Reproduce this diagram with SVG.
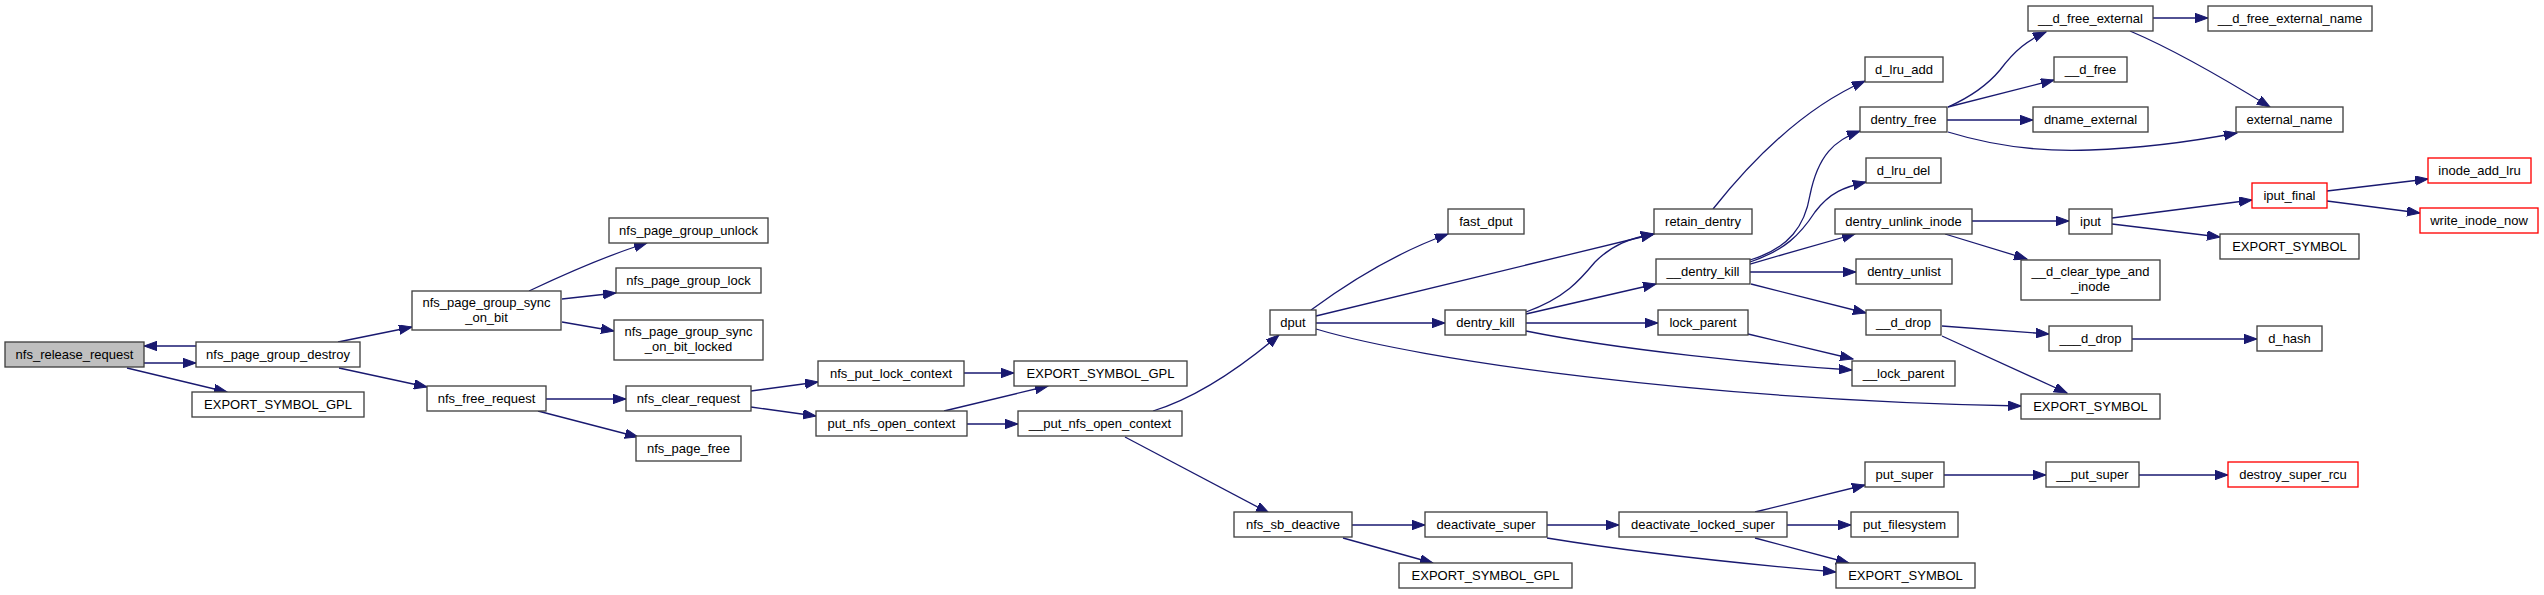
<svg xmlns="http://www.w3.org/2000/svg" width="2544" height="595" viewBox="0 0 2544 595">
<style>
.n rect{fill:#ffffff;stroke:#404040;stroke-width:1.33}
.n.root rect{fill:#bfbfbf}
.n.red rect{stroke:#ff0000}
.n text{font-family:"Liberation Sans",Arial,Helvetica,sans-serif;font-size:13px;fill:#000000;text-anchor:middle}
#edges path{fill:none;stroke:#191970;stroke-width:1.3;marker-end:url(#ah)}
</style>
<defs>
<marker id="ah" markerUnits="userSpaceOnUse" markerWidth="14" markerHeight="10" refX="13" refY="4.7" orient="auto">
<path d="M0,0 L13,4.7 L0,9.4 z" fill="#191970" stroke="#191970" stroke-width="1"/>
</marker>
</defs>
<rect width="2544" height="595" fill="#ffffff"/>
<g id="edges">
<path d="M196,346 L144,346"/>
<path d="M144,363 L196,363"/>
<path d="M127,368 L227,392"/>
<path d="M338,342 L412,327"/>
<path d="M339,368 L427,387"/>
<path d="M529,291 C565,274 605,256 647,243"/>
<path d="M562,299 L616,293"/>
<path d="M562,322 L614,331"/>
<path d="M546,399 L626,399"/>
<path d="M538,411 L638,437"/>
<path d="M751,391 L818,382"/>
<path d="M751,407 L816,416"/>
<path d="M964,373 L1014,373"/>
<path d="M944,411 L1048,386"/>
<path d="M967,424 L1018,424"/>
<path d="M1153,411 C1195,398 1240,368 1279,335"/>
<path d="M1125,437 L1269,513"/>
<path d="M1311,310 C1345,285 1390,255 1448,234"/>
<path d="M1316,316 L1654,234"/>
<path d="M1316,323 L1445,323"/>
<path d="M1316,329 C1420,360 1700,400 2021,406"/>
<path d="M1526,312 C1565,298 1580,280 1595,262 C1612,245 1630,238 1654,234"/>
<path d="M1526,314 L1656,284"/>
<path d="M1526,323 L1658,323"/>
<path d="M1526,331 C1620,350 1760,364 1852,370"/>
<path d="M1713,209 C1760,150 1810,105 1865,81"/>
<path d="M1750,260 C1790,248 1805,225 1810,195 C1818,155 1835,140 1860,131"/>
<path d="M1750,262 C1785,250 1800,235 1815,212 C1830,192 1845,187 1866,182"/>
<path d="M1750,264 L1855,234"/>
<path d="M1750,272 L1856,272"/>
<path d="M1751,284 L1866,313"/>
<path d="M1748,334 L1853,359"/>
<path d="M1948,107 C1975,95 1990,82 2000,70 C2015,50 2028,40 2046,32"/>
<path d="M1948,107 L2054,80"/>
<path d="M1947,120 L2033,120"/>
<path d="M1948,132 C1990,145 2040,152 2090,150 C2150,148 2200,140 2237,133"/>
<path d="M2153,18 L2208,18"/>
<path d="M2130,31 C2170,48 2210,70 2270,107"/>
<path d="M1972,221 L2069,221"/>
<path d="M1945,234 L2027,259"/>
<path d="M2112,218 L2252,200"/>
<path d="M2112,224 L2220,237"/>
<path d="M2327,191 L2428,179"/>
<path d="M2327,201 L2420,213"/>
<path d="M1942,326 L2049,334"/>
<path d="M1942,336 L2067,393"/>
<path d="M2132,339 L2257,339"/>
<path d="M1352,525 L1425,525"/>
<path d="M1343,538 L1433,563"/>
<path d="M1547,525 L1619,525"/>
<path d="M1547,538 C1620,550 1700,560 1836,572"/>
<path d="M1755,512 L1865,485"/>
<path d="M1787,525 L1851,525"/>
<path d="M1755,538 L1849,563"/>
<path d="M1944,475 L2046,475"/>
<path d="M2139,475 L2228,475"/>
</g>
<g id="n1" class="n root"><rect x="5" y="342" width="139" height="25"/><text x="74.5" y="358.5">nfs_release_request</text></g>
<g id="n2" class="n"><rect x="196" y="342" width="164" height="25"/><text x="278" y="358.5">nfs_page_group_destroy</text></g>
<g id="n3" class="n"><rect x="192" y="392" width="172" height="25"/><text x="278" y="408.5">EXPORT_SYMBOL_GPL</text></g>
<g id="n4" class="n"><rect x="412" y="291" width="149" height="39"/><text x="486.5" y="307">nfs_page_group_sync</text><text x="486.5" y="321.5">_on_bit</text></g>
<g id="n5" class="n"><rect x="427" y="386" width="119" height="25"/><text x="486.5" y="402.5">nfs_free_request</text></g>
<g id="n6" class="n"><rect x="609" y="218" width="159" height="25"/><text x="688.5" y="234.5">nfs_page_group_unlock</text></g>
<g id="n7" class="n"><rect x="616" y="268" width="145" height="25"/><text x="688.5" y="284.5">nfs_page_group_lock</text></g>
<g id="n8" class="n"><rect x="614" y="320" width="149" height="40"/><text x="688.5" y="336">nfs_page_group_sync</text><text x="688.5" y="350.5">_on_bit_locked</text></g>
<g id="n9" class="n"><rect x="626" y="386" width="125" height="25"/><text x="688.5" y="402.5">nfs_clear_request</text></g>
<g id="n10" class="n"><rect x="636" y="436" width="105" height="25"/><text x="688.5" y="452.5">nfs_page_free</text></g>
<g id="n11" class="n"><rect x="818" y="361" width="146" height="25"/><text x="891" y="377.5">nfs_put_lock_context</text></g>
<g id="n12" class="n"><rect x="816" y="411" width="151" height="25"/><text x="891.5" y="427.5">put_nfs_open_context</text></g>
<g id="n13" class="n"><rect x="1014" y="361" width="173" height="25"/><text x="1100.5" y="377.5">EXPORT_SYMBOL_GPL</text></g>
<g id="n14" class="n"><rect x="1018" y="411" width="164" height="25"/><text x="1100" y="427.5">__put_nfs_open_context</text></g>
<g id="n15" class="n"><rect x="1270" y="310" width="46" height="25"/><text x="1293" y="326.5">dput</text></g>
<g id="n16" class="n"><rect x="1234" y="512" width="118" height="25"/><text x="1293" y="528.5">nfs_sb_deactive</text></g>
<g id="n17" class="n"><rect x="1448" y="209" width="76" height="25"/><text x="1486" y="225.5">fast_dput</text></g>
<g id="n18" class="n"><rect x="1445" y="310" width="81" height="25"/><text x="1485.5" y="326.5">dentry_kill</text></g>
<g id="n19" class="n"><rect x="1425" y="512" width="122" height="25"/><text x="1486" y="528.5">deactivate_super</text></g>
<g id="n20" class="n"><rect x="1399" y="563" width="173" height="25"/><text x="1485.5" y="579.5">EXPORT_SYMBOL_GPL</text></g>
<g id="n21" class="n"><rect x="1654" y="209" width="98" height="25"/><text x="1703" y="225.5">retain_dentry</text></g>
<g id="n22" class="n"><rect x="1656" y="259" width="94" height="25"/><text x="1703" y="275.5">__dentry_kill</text></g>
<g id="n23" class="n"><rect x="1658" y="310" width="90" height="25"/><text x="1703" y="326.5">lock_parent</text></g>
<g id="n24" class="n"><rect x="1619" y="512" width="168" height="25"/><text x="1703" y="528.5">deactivate_locked_super</text></g>
<g id="n25" class="n"><rect x="1865" y="57" width="78" height="25"/><text x="1904" y="73.5">d_lru_add</text></g>
<g id="n26" class="n"><rect x="1860" y="107" width="87" height="25"/><text x="1903.5" y="123.5">dentry_free</text></g>
<g id="n27" class="n"><rect x="1866" y="158" width="75" height="25"/><text x="1903.5" y="174.5">d_lru_del</text></g>
<g id="n28" class="n"><rect x="1835" y="209" width="137" height="25"/><text x="1903.5" y="225.5">dentry_unlink_inode</text></g>
<g id="n29" class="n"><rect x="1856" y="259" width="96" height="25"/><text x="1904" y="275.5">dentry_unlist</text></g>
<g id="n30" class="n"><rect x="1866" y="310" width="75" height="25"/><text x="1903.5" y="326.5">__d_drop</text></g>
<g id="n31" class="n"><rect x="1852" y="361" width="103" height="25"/><text x="1903.5" y="377.5">__lock_parent</text></g>
<g id="n32" class="n"><rect x="1865" y="462" width="79" height="25"/><text x="1904.5" y="478.5">put_super</text></g>
<g id="n33" class="n"><rect x="1851" y="512" width="107" height="25"/><text x="1904.5" y="528.5">put_filesystem</text></g>
<g id="n34" class="n"><rect x="1836" y="563" width="139" height="25"/><text x="1905.5" y="579.5">EXPORT_SYMBOL</text></g>
<g id="n35" class="n"><rect x="2028" y="6" width="125" height="25"/><text x="2090.5" y="22.5">__d_free_external</text></g>
<g id="n36" class="n"><rect x="2054" y="57" width="73" height="25"/><text x="2090.5" y="73.5">__d_free</text></g>
<g id="n37" class="n"><rect x="2033" y="107" width="115" height="25"/><text x="2090.5" y="123.5">dname_external</text></g>
<g id="n38" class="n"><rect x="2069" y="209" width="43" height="25"/><text x="2090.5" y="225.5">iput</text></g>
<g id="n39" class="n"><rect x="2021" y="260" width="139" height="40"/><text x="2090.5" y="276">__d_clear_type_and</text><text x="2090.5" y="290.5">_inode</text></g>
<g id="n40" class="n"><rect x="2049" y="326" width="83" height="25"/><text x="2090.5" y="342.5">___d_drop</text></g>
<g id="n41" class="n"><rect x="2021" y="394" width="139" height="25"/><text x="2090.5" y="410.5">EXPORT_SYMBOL</text></g>
<g id="n42" class="n"><rect x="2046" y="462" width="93" height="25"/><text x="2092.5" y="478.5">__put_super</text></g>
<g id="n43" class="n"><rect x="2208" y="6" width="164" height="25"/><text x="2290" y="22.5">__d_free_external_name</text></g>
<g id="n44" class="n"><rect x="2236" y="107" width="107" height="25"/><text x="2289.5" y="123.5">external_name</text></g>
<g id="n45" class="n red"><rect x="2252" y="183" width="75" height="25"/><text x="2289.5" y="199.5">iput_final</text></g>
<g id="n46" class="n"><rect x="2220" y="234" width="139" height="25"/><text x="2289.5" y="250.5">EXPORT_SYMBOL</text></g>
<g id="n47" class="n"><rect x="2257" y="326" width="65" height="25"/><text x="2289.5" y="342.5">d_hash</text></g>
<g id="n48" class="n red"><rect x="2228" y="462" width="130" height="25"/><text x="2293" y="478.5">destroy_super_rcu</text></g>
<g id="n49" class="n red"><rect x="2428" y="158" width="103" height="25"/><text x="2479.5" y="174.5">inode_add_lru</text></g>
<g id="n50" class="n red"><rect x="2420" y="208" width="118" height="25"/><text x="2479" y="224.5">write_inode_now</text></g>
</svg>
